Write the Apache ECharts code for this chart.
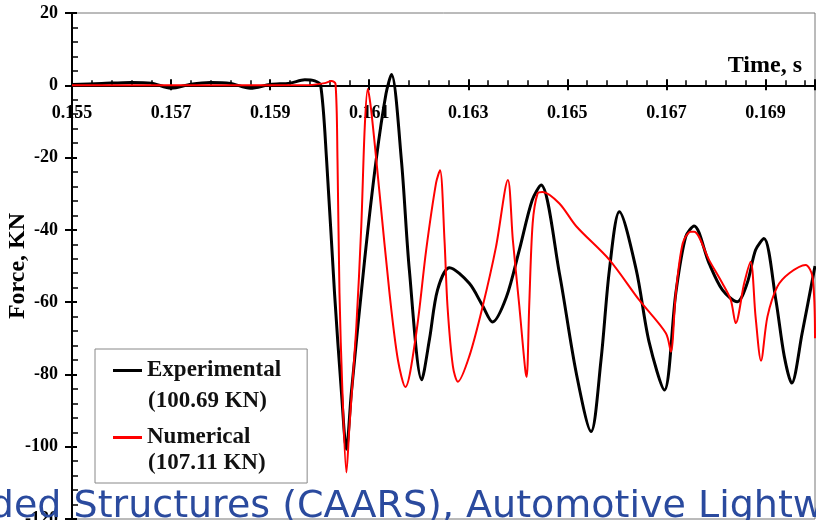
<!DOCTYPE html>
<html>
<head>
<meta charset="utf-8">
<script src="https://cdn.jsdelivr.net/npm/echarts@6/dist/echarts.min.js"></script>
<style>
  html, body { margin: 0; background: #fff; }
  #main { width: 816px; height: 520px; }
</style>
</head>
<body>
<div id="main"></div>
<script>
// Experimental curve (time in s, force in KN)
var expTime = [0.1550, 0.1556, 0.1562, 0.1566, 0.1570, 0.1574, 0.1578, 0.1582, 0.1586, 0.1590,
  0.1594, 0.1597, 0.15990, 0.16002, 0.16014, 0.16030, 0.16044, 0.16054, 0.16064, 0.16091,
  0.16114, 0.16134, 0.16145, 0.16165, 0.16181, 0.16206, 0.16222, 0.16238, 0.16262, 0.16302,
  0.16329, 0.16349, 0.16377, 0.16403, 0.16429, 0.16447, 0.16484, 0.16518, 0.16548, 0.16568,
  0.16585, 0.16605, 0.16639, 0.16665, 0.16696, 0.16719, 0.16739, 0.16756, 0.16786, 0.16813,
  0.16843, 0.16863, 0.16880, 0.16897, 0.16921, 0.16938, 0.16953, 0.16974, 0.17000];
var expForce = [0.2, 0.5, 0.8, 0.6, -0.8, 0.3, 0.8, 0.5, -0.8, 0.2,
  0.6, 1.5, 1.2, 0, -20.7, -57.5, -85, -100.7, -85, -48,
  -20.7, -2.3, 3, -20.7, -51, -81.5, -70, -56.6, -50.5, -54.8,
  -61, -65.5, -58.6, -45.6, -31.8, -27.6, -52, -79.6, -95.8, -76,
  -51, -35, -51, -71, -84.3, -57.5, -41.9, -38.9, -49.2, -56.6,
  -59.9, -54.8, -45.6, -42.4, -59.4, -75, -82.4, -68.6, -50];

// Numerical curve
var numTime = [0.1550, 0.1580, 0.1598, 0.16010, 0.16024, 0.16032, 0.16036, 0.16040, 0.16046, 0.16054,
  0.16060, 0.16074, 0.16084, 0.16091, 0.16097, 0.16104, 0.16121, 0.16141, 0.16158, 0.16173,
  0.16195, 0.16215, 0.16235, 0.16243, 0.16252, 0.16258, 0.16269, 0.16279, 0.16302, 0.16329,
  0.16356, 0.16380, 0.16390, 0.16403, 0.16415, 0.16418, 0.16423, 0.16430, 0.16440, 0.16450,
  0.16484, 0.16518, 0.16585, 0.16645, 0.16699, 0.16709, 0.16719, 0.16733, 0.16749, 0.16756,
  0.16786, 0.16813, 0.16830, 0.16840, 0.16857, 0.16870, 0.16880, 0.16891, 0.16904, 0.16924,
  0.16948, 0.16981, 0.16995, 0.17000];
var numForce = [0, 0, 0.1, 0.6, 1.2, 0.4, -20.7, -57.5, -85, -107.1,
  -94.5, -66.8, -39, -11.6, -1, -6.9, -30, -57.5, -76, -83.5,
  -68.6, -45.6, -27, -23.5, -42.8, -61, -77.8, -82, -75, -61.2,
  -44.7, -26.2, -42.8, -61, -78.7, -80.7, -61.2, -38.2, -29.9, -29.5,
  -32.7, -39, -48.3, -59.4, -68.6, -73.7, -57.5, -43.7, -40.5, -40.5,
  -48.3, -54.8, -59.4, -65.8, -54.8, -48.8, -64, -76.2, -64, -55.7,
  -52, -49.7, -53, -70];

var seriesNames = ['Experimental', 'Numerical'];
var peakLabels = ['(100.69 KN)', '(107.11 KN)'];

var serif = "'Liberation Serif', 'Times New Roman', serif";

function pairs(xs, ys) {
  return xs.map(function (x, i) { return [x, ys[i]]; });
}

var myChart = echarts.init(document.getElementById('main'));

var labelStyle = { color: '#000', fontFamily: serif, fontWeight: 'bold', fontSize: 18 };

// grid geometry; the labelled time axis is lifted from the bottom edge to the force = 0 line
var gridTop = 13, gridBottom = 1, yMin = -120, yMax = 20;
var gridH = 520 - gridTop - gridBottom;
var zeroLift = -gridH * (0 - yMin) / (yMax - yMin);

var option = {
  animation: false,
  backgroundColor: '#fff',
  grid: { left: 72, right: 1, top: gridTop, bottom: gridBottom, containLabel: false, outerBoundsMode: 'none',
    show: true, borderColor: '#777', borderWidth: 1 },
  legend: {
    data: [
      { name: seriesNames[0], icon: 'rect', itemStyle: { color: '#000' } },
      { name: seriesNames[1], icon: 'rect', itemStyle: { color: '#f00' } }
    ],
    orient: 'vertical',
    left: 95, top: 349,
    padding: [10, 26, 34, 18],
    itemWidth: 29, itemHeight: 3, itemGap: 44,
    borderColor: '#888', borderWidth: 1, backgroundColor: '#fff',
    textStyle: { color: '#111', fontFamily: serif, fontWeight: 'bold', fontSize: 23 }
  },
  xAxis: [{
    type: 'value', min: 0.155, max: 0.170, interval: 0.002, position: 'bottom', offset: zeroLift,
    axisLine: { onZero: false, lineStyle: { color: '#000', width: 2 } },
    axisTick: { inside: true, length: 6, lineStyle: { color: '#000', width: 2 } },
    minorTick: { show: true, splitNumber: 5, length: 5, lineStyle: { color: '#000', width: 1.5 } },
    splitLine: { show: false },
    axisLabel: Object.assign({ margin: 19, formatter: function (v) {
      var k = Math.round(v * 1000);
      return k % 2 === 1 ? (k / 1000).toFixed(3) : '';
    } }, labelStyle),
    name: 'Time, s', nameLocation: 'end', nameGap: -13,
    nameTextStyle: { color: '#000', fontFamily: serif, fontWeight: 'bold', fontSize: 24,
      align: 'right', verticalAlign: 'bottom', padding: [0, 0, 7, 0] }
  }, {
    type: 'value', min: 0.155, max: 0.170, interval: 0.002, position: 'top',
    axisLine: { onZero: true, onZeroAxisIndex: 0, lineStyle: { color: '#000', width: 2 } },
    axisTick: { inside: true, length: 5, lineStyle: { color: '#000', width: 2 } },
    axisLabel: { show: false },
    splitLine: { show: false }
  }],
  yAxis: [{
    type: 'value', min: yMin, max: yMax, interval: 20, position: 'left',
    axisLine: { onZero: false, lineStyle: { color: '#000', width: 2 } },
    axisTick: { length: 7, lineStyle: { color: '#000', width: 2 } },
    splitLine: { show: false },
    axisLabel: Object.assign({ margin: 14 }, labelStyle),
    name: 'Force, KN', nameLocation: 'middle', nameGap: 42, nameMoveOverlap: false,
    nameTextStyle: { color: '#000', fontFamily: serif, fontWeight: 'bold', fontSize: 24 }
  }, {
    type: 'value', min: yMin, max: yMax, interval: 20, position: 'left',
    axisLine: { show: false, onZero: false },
    axisTick: { inside: true, length: 5, lineStyle: { color: '#000', width: 2 } },
    minorTick: { show: true, splitNumber: 5, length: 6, lineStyle: { color: '#000', width: 1.5 } },
    axisLabel: { show: false },
    splitLine: { show: false }
  }],
  series: [{
    name: seriesNames[0], type: 'line', symbol: 'none', smooth: 0.3,
    xAxisIndex: 0, yAxisIndex: 0,
    lineStyle: { color: '#000', width: 3 }, itemStyle: { color: '#000' },
    data: pairs(expTime, expForce), z: 3
  }, {
    name: seriesNames[1], type: 'line', symbol: 'none', smooth: 0.3,
    xAxisIndex: 0, yAxisIndex: 0,
    lineStyle: { color: '#f00', width: 2 }, itemStyle: { color: '#f00' },
    data: pairs(numTime, numForce), z: 4
  }],
  graphic: [{
    type: 'text', left: 148, top: 390, z: 100,
    style: { text: peakLabels[0], fill: '#111', font: 'bold 23px ' + serif }
  }, {
    type: 'text', left: 148, top: 452, z: 100,
    style: { text: peakLabels[1], fill: '#111', font: 'bold 23px ' + serif }
  }, {
    type: 'text', left: -44, top: 488, z: 200,
    style: { text: 'olded Structures (CAARS), Automotive Lightweighting', fill: '#2a4a9e',
      font: '38px "DejaVu Sans", Verdana, sans-serif' }
  }]
};

myChart.setOption(option);
</script>
</body>
</html>
